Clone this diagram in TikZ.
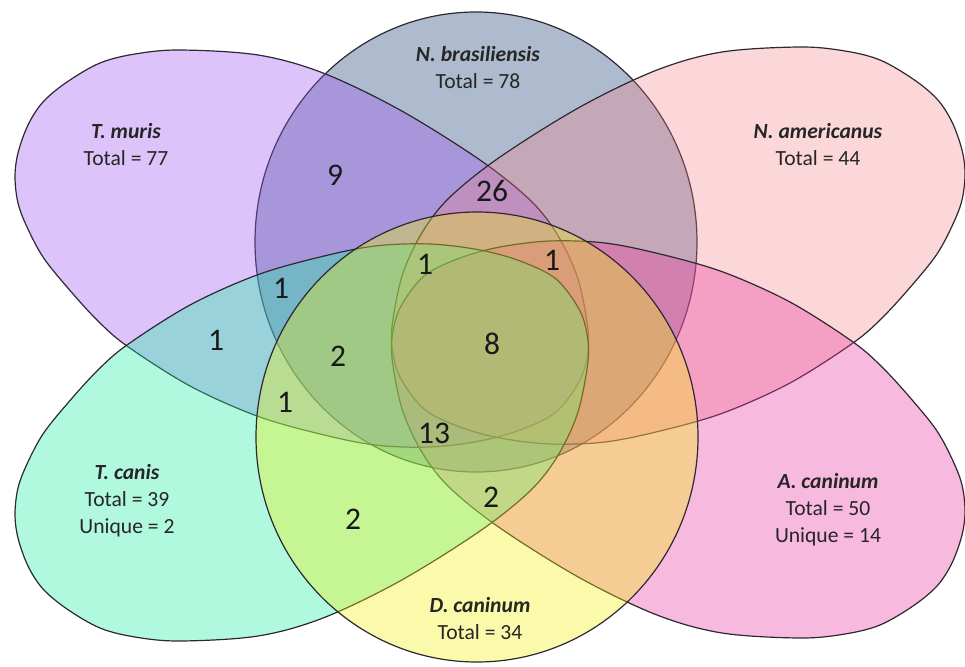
\documentclass[tikz,border=0pt]{standalone}
\usepackage{fontspec}
\setmainfont{Carlito}
\definecolor{cbras}{RGB}{95,121,161}
\definecolor{cmuris}{RGB}{155,86,241}
\definecolor{ccanis}{RGB}{29,238,161}
\definecolor{camer}{RGB}{248,125,132}
\definecolor{cacan}{RGB}{235,55,161}
\definecolor{cdcan}{RGB}{241,241,12}
\definecolor{cline}{RGB}{45,40,50}
\newcommand\teardroppath{plot[smooth cycle,tension=0.55] coordinates {(15,177) (18,153) (28,125) (43,102) (67,82) (100,63) (135,54) (180,50) (258,55) (323,73) (400,110) (480,160) (530,200) (557,234) (577,276) (587,322) (588,350) (580,380) (556,412) (520,430) (480,441) (430,447) (375,445) (320,434) (257,416) (190,386) (127,346) (97,320) (67,287) (43,257) (27,227) (18,203)}}
\tikzset{
  setshape/.style={draw=cline, line width=1.2pt},
  num/.style={font=\fontsize{31.5}{32}\selectfont, inner sep=0pt, text=black!90},
  lab/.style={font=\fontsize{21.6}{27}\selectfont, align=center, inner sep=0pt, text=black!85},
}
\begin{document}
\begin{tikzpicture}[x=1pt,y=-1pt]
\useasboundingbox (0,0) rectangle (965,666);
\fill[white] (0,0) rectangle (965,666);
% N. brasiliensis
\path[setshape, fill=cbras, fill opacity=0.5] (476,242) ellipse [x radius=221, y radius=230];
% T. muris
\path[setshape, fill=cmuris, fill opacity=0.35] \teardroppath;
% N. americanus
\begin{scope}[shift={(980,-3)}, xscale=-1]
\path[setshape, fill=camer, fill opacity=0.3] \teardroppath;
\end{scope}
% A. caninum
\begin{scope}[shift={(980,688)}, xscale=-1, yscale=-1]
\path[setshape, fill=cacan, fill opacity=0.35] \teardroppath;
\end{scope}
% T. canis
\begin{scope}[shift={(0,691)}, yscale=-1]
\path[setshape, fill=ccanis, fill opacity=0.35] \teardroppath;
\end{scope}
% D. caninum
\path[setshape, fill=cdcan, fill opacity=0.35] (477,437) ellipse [x radius=221, y radius=225];

% set labels
\node[lab] (lmuris) at (126,144) {\textbf{\textit{T. muris}}\\Total = 77};
\node[lab] (lbras) at (478,68) {\textbf{\textit{N. brasiliensis}}\\Total = 78};
\node[lab] (lamer) at (818,144) {\textbf{\textit{N. americanus}}\\Total = 44};
\node[lab] (lcanis) at (127,501) {\textbf{\textit{T. canis}}\\Total = 39\\Unique = 2};
\node[lab] (lacan) at (828,510) {\textbf{\textit{A. caninum}}\\Total = 50\\Unique = 14};
\node[lab] (ldcan) at (480,618) {\textbf{\textit{D. caninum}}\\Total = 34};

% region counts
\node[num] (r9) at (335,175) {9};
\node[num] (r26) at (492,191) {26};
\node[num] (r1a) at (425,264) {1};
\node[num] (r1b) at (552,260) {1};
\node[num] (r1c) at (281,288) {1};
\node[num] (r1d) at (216,340) {1};
\node[num] (r2a) at (338,356) {2};
\node[num] (r8) at (492,344) {8};
\node[num] (r1e) at (285,402) {1};
\node[num] (r13) at (434,433) {13};
\node[num] (r2b) at (491,497) {2};
\node[num] (r2c) at (353,519) {2};
\end{tikzpicture}
\end{document}
